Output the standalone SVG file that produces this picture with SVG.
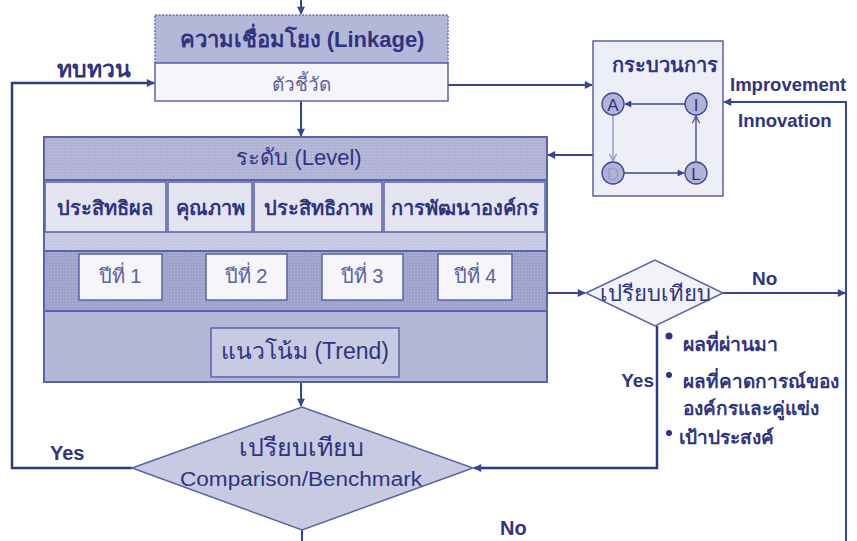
<svg xmlns="http://www.w3.org/2000/svg" width="857" height="541" viewBox="0 0 857 541">
<style>
text{font-family:"Liberation Sans","Noto Sans",sans-serif;fill:#2e3480}
.b{font-weight:bold}
.lt{fill:#5c619f}
.c{text-anchor:middle}
.ln{fill:none;stroke:#3a4494;stroke-width:2}
.lnb{fill:none;stroke:#2d3786;stroke-width:2.5}
.thin{fill:none;stroke:#3a4494;stroke-width:1.3}
.box{stroke:#5a63a8;stroke-width:1.5}
</style>
<defs>
<pattern id="dots" width="3" height="3" patternUnits="userSpaceOnUse">
<rect x="0" y="0" width="1" height="1" fill="#ffffff" fill-opacity="0.25"/>
</pattern>
<marker id="ar" viewBox="0 0 10 10" refX="9" refY="5" markerWidth="9" markerHeight="8" markerUnits="userSpaceOnUse" orient="auto">
<path d="M0,0 L10,5 L0,10 Z" fill="#3a4494"/>
</marker>
<marker id="arS" viewBox="0 0 10 10" refX="9" refY="5" markerWidth="8" markerHeight="7" markerUnits="userSpaceOnUse" orient="auto">
<path d="M0,0 L10,5 L0,10 Z" fill="#3a4494"/>
</marker>
<marker id="op" viewBox="0 0 10 10" refX="9" refY="5" markerWidth="9" markerHeight="9" markerUnits="userSpaceOnUse" orient="auto">
<path d="M1,1 L9,5 L1,9" fill="none" stroke="#3a4494" stroke-width="1.3"/>
</marker>
<marker id="opL" viewBox="0 0 10 10" refX="9" refY="5" markerWidth="9" markerHeight="9" markerUnits="userSpaceOnUse" orient="auto">
<path d="M1,1 L9,5 L1,9" fill="none" stroke="#8a8fc2" stroke-width="1.3"/>
</marker>
</defs>

<g id="connectors">
<line class="ln" x1="301" y1="0" x2="301" y2="14" marker-end="url(#ar)"/>
<line class="ln" x1="301" y1="101" x2="301" y2="136" marker-end="url(#ar)"/>
<polyline class="lnb" points="132,468 12,468 12,83 154,83" marker-end="url(#ar)"/>
<line class="ln" x1="448" y1="85" x2="592" y2="85" marker-end="url(#ar)"/>
<line class="ln" x1="593" y1="155" x2="548" y2="155" marker-end="url(#ar)"/>
<polyline class="ln" points="846,541 846,102 724,102" marker-end="url(#ar)"/>
<line class="ln" x1="547" y1="293" x2="585" y2="293" marker-end="url(#ar)"/>
<line class="ln" x1="723" y1="293" x2="845" y2="293" marker-end="url(#ar)"/>
<polyline class="lnb" points="657,326 657,468 474,468" marker-end="url(#ar)"/>
<line class="ln" x1="301" y1="311" x2="301" y2="327" marker-end="url(#arS)"/>
<line class="ln" x1="301" y1="382" x2="301" y2="406" marker-end="url(#ar)"/>
<line class="ln" x1="302" y1="530" x2="302" y2="541"/>
</g>

<g id="linkage">
<rect x="155" y="15" width="293" height="48" fill="#b5b7d9" stroke="#6a72b0" stroke-width="1.5" stroke-dasharray="2,1.5"/>
<rect x="155" y="63" width="293" height="38" fill="#f5f5fa" class="box"/>
<text x="302" y="47" class="b c" font-size="22">ความเชื่อมโยง (Linkage)</text>
<text x="301" y="91" class="lt c" font-size="19">ตัวชี้วัด</text>
</g>

<g id="review-label">
<text x="57" y="77" class="b" font-size="23">ทบทวน</text>
</g>

<g id="process">
<rect x="593" y="41" width="130" height="155" fill="#eeeef6" class="box"/>
<text x="665" y="72" class="b c" font-size="20">กระบวนการ</text>
<line class="thin" x1="685" y1="104" x2="625" y2="104" marker-end="url(#arS)"/>
<line x1="613" y1="115" x2="613" y2="161" stroke="#8a8fc2" stroke-width="1.3" marker-end="url(#opL)"/>
<line class="thin" x1="624" y1="173" x2="684" y2="173" marker-end="url(#arS)"/>
<line class="thin" x1="696" y1="162" x2="696" y2="116" marker-end="url(#op)"/>
<circle cx="613" cy="104" r="11" fill="#b0b3d6" stroke="#3d4797" stroke-width="1.3"/>
<circle cx="696" cy="104" r="11" fill="#b0b3d6" stroke="#3d4797" stroke-width="1.3"/>
<circle cx="613" cy="173" r="11" fill="#b0b3d6" stroke="#3d4797" stroke-width="1.3"/>
<circle cx="696" cy="173" r="11" fill="#b0b3d6" stroke="#3d4797" stroke-width="1.3"/>
<text x="613" y="110.5" class="c" font-size="17">A</text>
<text x="696" y="110.5" class="c" font-size="17">I</text>
<text x="613" y="179.5" class="c" font-size="17" style="fill:#9a9dcc">D</text>
<text x="696" y="179.5" class="c" font-size="17">L</text>
</g>

<g id="improvement-label">
<text x="730" y="91" class="b" font-size="18.5">Improvement</text>
<text x="738" y="127" class="b" font-size="18.5">Innovation</text>
</g>

<g id="level">
<rect x="44" y="137" width="503" height="245" fill="#b4b6d8" stroke="#5a63a8" stroke-width="2"/>
<rect x="44" y="137" width="503" height="43" fill="#b0b3d5"/>
<rect x="44" y="137" width="503" height="43" fill="url(#dots)"/>
<line x1="44" y1="180" x2="547" y2="180" stroke="#5a63a8" stroke-width="2"/>
<text x="299" y="165" class="c" font-size="22">ระดับ (Level)</text>
<rect x="44" y="181" width="503" height="51" fill="#c8cae2"/>
<rect x="45" y="182" width="121" height="50" fill="#e4e4f0" class="box"/>
<rect x="168" y="182" width="84" height="50" fill="#e4e4f0" class="box"/>
<rect x="254" y="182" width="128" height="50" fill="#e4e4f0" class="box"/>
<rect x="384" y="182" width="161" height="50" fill="#e4e4f0" class="box"/>
<text x="105" y="215" class="b c" font-size="20">ประสิทธิผล</text>
<text x="210" y="215" class="b c" font-size="20">คุณภาพ</text>
<text x="318" y="215" class="b c" font-size="20">ประสิทธิภาพ</text>
<text x="465" y="215" class="b c" font-size="20">การพัฒนาองค์กร</text>
<rect x="44" y="233" width="503" height="18" fill="#c7c9e2"/>
<rect x="44" y="233" width="503" height="18" fill="url(#dots)"/>
<rect x="44" y="251" width="503" height="60" fill="#9fa2cb" stroke="#5a63a8" stroke-width="2"/>
<rect x="44" y="251" width="503" height="60" fill="url(#dots)"/>
<rect x="79" y="254" width="83" height="46" fill="#f5f5fa" class="box"/>
<rect x="206" y="254" width="81" height="46" fill="#f5f5fa" class="box"/>
<rect x="322" y="254" width="81" height="46" fill="#f5f5fa" class="box"/>
<rect x="438" y="254" width="74" height="46" fill="#f5f5fa" class="box"/>
<text x="120" y="283" class="lt c" font-size="20">ปีที่ 1</text>
<text x="246" y="283" class="lt c" font-size="20">ปีที่ 2</text>
<text x="362" y="283" class="lt c" font-size="20">ปีที่ 3</text>
<text x="475" y="283" class="lt c" font-size="20">ปีที่ 4</text>
<rect x="44" y="137" width="503" height="245" fill="none" stroke="#5a63a8" stroke-width="2"/>
</g>

<g id="trend">
<rect x="211" y="328" width="188" height="49" fill="#c8cae2" class="box"/>
<text x="305" y="359" class="c" font-size="23">แนวโน้ม (Trend)</text>
</g>

<g id="compare-small">
<polygon points="586,293 655,260 723,293 655,326" fill="#f2f2f9" stroke="#5a63a8" stroke-width="1.5"/>
<text x="655" y="301" class="c" font-size="22">เปรียบเทียบ</text>
<text x="752" y="285" class="b" font-size="19">No</text>
<text x="654" y="387" class="b" font-size="19" text-anchor="end">Yes</text>
</g>

<g id="criteria">
<circle cx="669" cy="336" r="3.5" fill="#2e3480"/>
<circle cx="669" cy="375" r="3" fill="#2e3480"/>
<circle cx="669" cy="433" r="3" fill="#2e3480"/>
<text x="683" y="351" class="b" font-size="19.5">ผลที่ผ่านมา</text>
<text x="683" y="388" class="b" font-size="19">ผลที่คาดการณ์ของ</text>
<text x="683" y="415" class="b" font-size="19">องค์กรและคู่แข่ง</text>
<text x="679" y="444" class="b" font-size="19">เป้าประสงค์</text>
</g>

<g id="compare-big">
<polygon points="132,468 302,407 473,468 302,530" fill="#c8cae2" stroke="#5a63a8" stroke-width="1.5"/>
<text x="301" y="456" class="c" font-size="25">เปรียบเทียบ</text>
<text x="301" y="486" class="c" font-size="20" textLength="242" lengthAdjust="spacingAndGlyphs">Comparison/Benchmark</text>
<text x="50" y="460" class="b" font-size="20">Yes</text>
<text x="500" y="535" class="b" font-size="20">No</text>
</g>
</svg>
